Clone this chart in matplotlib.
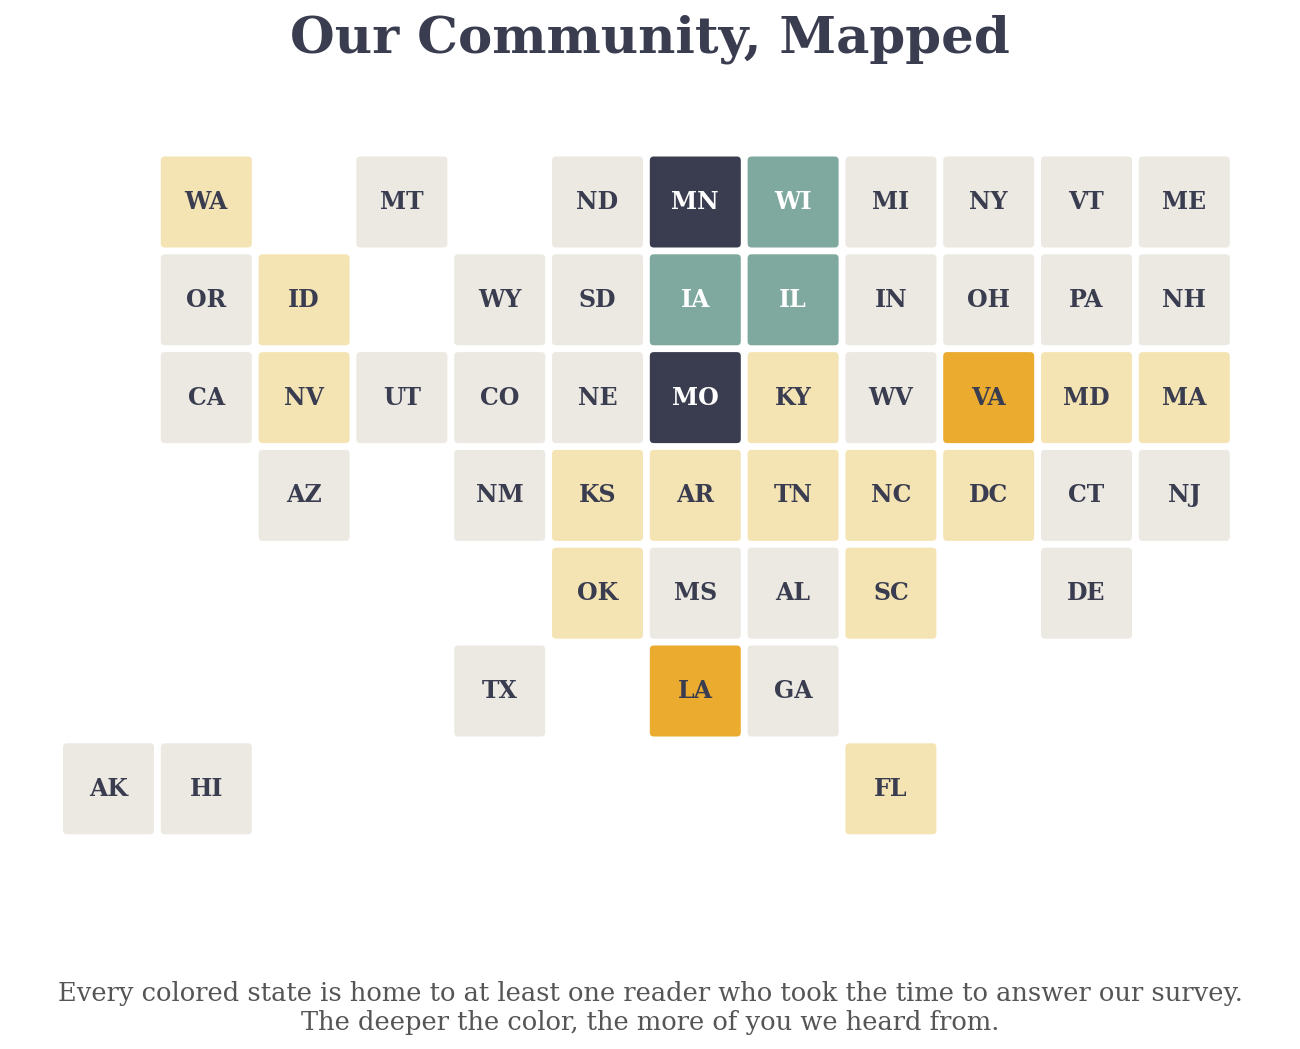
import matplotlib
matplotlib.use('Agg')
import matplotlib.pyplot as plt
from matplotlib.patches import FancyBboxPatch

# ---------- data ----------
states = ['WA', 'MT', 'ND', 'MN', 'WI', 'MI', 'NY', 'VT', 'ME',
          'OR', 'ID', 'WY', 'SD', 'IA', 'IL', 'IN', 'OH', 'PA', 'NH',
          'CA', 'NV', 'UT', 'CO', 'NE', 'MO', 'KY', 'WV', 'VA', 'MD', 'MA',
          'AZ', 'NM', 'KS', 'AR', 'TN', 'NC', 'DC', 'CT', 'NJ',
          'OK', 'MS', 'AL', 'SC', 'DE',
          'TX', 'LA', 'GA',
          'AK', 'HI', 'FL']
cols = [1, 3, 5, 6, 7, 8, 9, 10, 11,
        1, 2, 4, 5, 6, 7, 8, 9, 10, 11,
        1, 2, 3, 4, 5, 6, 7, 8, 9, 10, 11,
        2, 4, 5, 6, 7, 8, 9, 10, 11,
        5, 6, 7, 8, 10,
        4, 6, 7,
        0, 1, 8]
rows = [0] * 9 + [1] * 10 + [2] * 11 + [3] * 9 + [4] * 5 + [5] * 3 + [6] * 3
# 0 = no readers, 1 = few, 2 = more, 3 = many, 4 = most
levels = [1, 0, 0, 4, 3, 0, 0, 0, 0,
          0, 1, 0, 0, 3, 3, 0, 0, 0, 0,
          0, 1, 0, 0, 0, 4, 1, 0, 2, 1, 1,
          0, 0, 1, 1, 1, 1, 1, 0, 0,
          1, 0, 0, 1, 0,
          0, 2, 0,
          0, 0, 1]

fills = ['#ECE9E2', '#F5E4B3', '#EAAB2F', '#7FA89F', '#3A3D50']
text_cols = ['#3A3D50', '#3A3D50', '#3A3D50', 'white', 'white']

# ---------- draw ----------
fig = plt.figure(figsize=(13, 10.49), dpi=100)
ax = fig.add_axes([0, 0, 1, 1])
ax.set_xlim(0, 1300)
ax.set_ylim(1049, 0)
ax.axis('off')

pitch = 97.8
size = 91
x0, y0 = 108.5, 202
for st, c, r, lv in zip(states, cols, rows, levels):
    cx = x0 + c * pitch
    cy = y0 + r * pitch
    ax.add_patch(FancyBboxPatch((cx - size / 2 + 4, cy - size / 2 + 4), size - 8, size - 8,
                                boxstyle='round,pad=4', fc=fills[lv], ec='none'))
    ax.text(cx, cy, st, ha='center', va='center', family='DejaVu Serif',
            fontweight='bold', fontsize=17, color=text_cols[lv])

ax.text(650, 39, 'Our Community, Mapped', ha='center', va='center',
        family='DejaVu Serif', fontweight='bold', fontsize=37, color='#3A3D50')
ax.text(650, 1008, 'Every colored state is home to at least one reader who took the time to answer our survey.\n'
        'The deeper the color, the more of you we heard from.', ha='center', va='center',
        family='DejaVu Serif', fontsize=18.5, color='#555555', linespacing=1.2)

fig.savefig('out.png', dpi=100)
